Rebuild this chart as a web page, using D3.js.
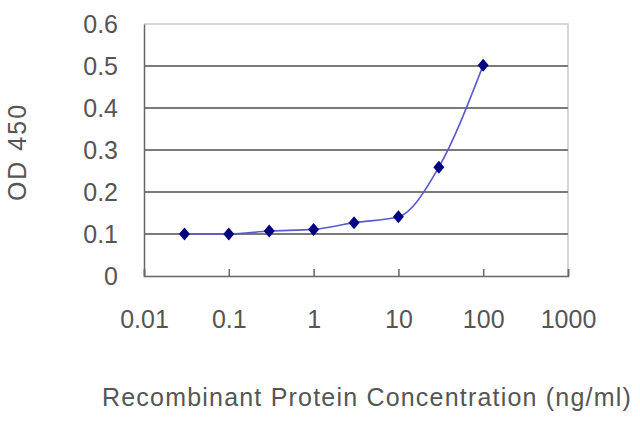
<!DOCTYPE html>
<html><head><meta charset="utf-8">
<script src="https://cdn.jsdelivr.net/npm/d3@7"></script>
<style>body{margin:0;background:#fff;}svg{display:block;font-family:"Liberation Sans",Arial,sans-serif;}</style>
</head><body>
<svg id="c" width="640" height="427"></svg>
<script>
const concentrations = [0.03, 0.1, 0.3, 1, 3, 10, 30, 100];
const odValues = [0.100, 0.100, 0.107, 0.111, 0.127, 0.141, 0.259, 0.502];
const xTicks = [0.01, 0.1, 1, 10, 100, 1000];
const xTickLabels = ["0.01", "0.1", "1", "10", "100", "1000"];
const yTicks = [0, 0.1, 0.2, 0.3, 0.4, 0.5, 0.6];
const yTickLabels = ["0", "0.1", "0.2", "0.3", "0.4", "0.5", "0.6"];
const xTitle = "Recombinant Protein Concentration (ng/ml)";
const yTitle = "OD 450";

const svg = d3.select("#c");
const L = 144, R = 568, T = 24, B = 276;
const x = d3.scaleLog().domain([0.01, 1000]).range([L, R]);
const y = d3.scaleLinear().domain([0, 0.6]).range([B, T]);
const textCol = "#555";
const fs = "25px";

// frame top/right
svg.append("path").attr("d", `M${L},${T}H${R}V${B}`).attr("fill","none").attr("stroke","#c8c8c8").attr("stroke-width",1.5);
// gridlines
svg.append("g").selectAll("line").data(yTicks.filter(d=>d>0 && d<0.6)).join("line")
  .attr("x1", L).attr("x2", R).attr("y1", d=>y(d)).attr("y2", d=>y(d))
  .attr("stroke", "#7a7a7a").attr("stroke-width", 2);

// y axis
const yAxis = svg.append("g").attr("transform", `translate(${L},0)`)
  .call(d3.axisLeft(y).tickValues(yTicks).tickFormat((d,i)=>yTickLabels[i]).tickSize(0).tickPadding(26));
yAxis.select(".domain").attr("stroke","#666").attr("stroke-width",1.5);
yAxis.selectAll("text").attr("fill", textCol).style("font-size",fs).attr("dy","0.35em");

// x axis
const xAxis = svg.append("g").attr("transform", `translate(0,${B})`)
  .call(d3.axisBottom(x).tickValues(xTicks).tickFormat((d,i)=>xTickLabels[i]).tickSize(-7).tickPadding(34));
xAxis.select(".domain").attr("stroke","#666").attr("stroke-width",1.5);
xAxis.selectAll(".tick line").attr("stroke","#666").attr("stroke-width",1.5);
xAxis.selectAll("text").attr("fill", textCol).style("font-size",fs);

// line
const line = d3.line().x(d=>x(d[0])).y(d=>y(d[1])).curve(d3.curveMonotoneX);
const pts = concentrations.map((c,i)=>[c, odValues[i]]);
svg.append("path").datum(pts).attr("d", line).attr("fill","none").attr("stroke","#5a5ad0").attr("stroke-width",1.6);

// markers
svg.append("g").selectAll("path").data(pts).join("path")
  .attr("transform", d=>`translate(${x(d[0])},${y(d[1])})`)
  .attr("d", "M0,-6.5L5.5,0L0,6.5L-5.5,0Z").attr("fill","#000080");

// titles
svg.append("text").attr("x", 367).attr("y", 406).attr("text-anchor","middle")
  .attr("fill", textCol).style("font-size",fs).style("letter-spacing","1.2px").text(xTitle);
svg.append("text").attr("transform","translate(26,152) rotate(-90)").attr("text-anchor","middle")
  .attr("fill", textCol).style("font-size",fs).style("letter-spacing","2px").text(yTitle);
</script>
</body></html>
